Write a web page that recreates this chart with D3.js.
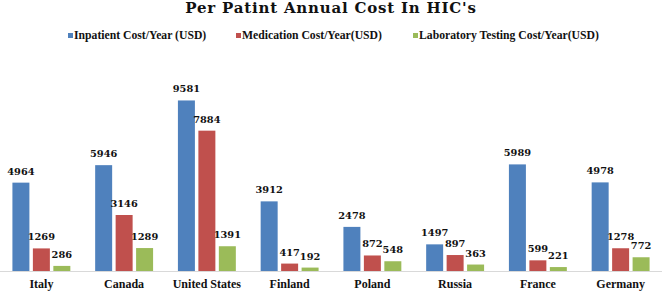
<!DOCTYPE html>
<html>
<head>
<meta charset="utf-8">
<script src="https://cdn.jsdelivr.net/npm/d3@7"></script>
<style>
  body { margin: 0; background: #fff; }
  text { font-family: "DejaVu Serif", "Liberation Serif", serif; }
</style>
</head>
<body>
<div id="chart"></div>
<script>
const countries = ["Italy", "Canada", "United States", "Finland", "Poland", "Russia", "France", "Germany"]
const inpatient = [4964, 5946, 9581, 3912, 2478, 1497, 5989, 4978]
const medication = [1269, 3146, 7884, 417, 872, 897, 599, 1278]
const laboratory = [286, 1289, 1391, 192, 548, 363, 221, 772]
const seriesNames = ["Inpatient Cost/Year (USD)", "Medication Cost/Year(USD)", "Laboratory Testing Cost/Year(USD)"]
const colors = ["#4f81bd", "#c0504d", "#9bbb59"]

const W = 662, H = 291
const margin = {top: 93, right: 0, bottom: 20, left: 0}
const width = W - margin.left - margin.right,
      height = H - margin.top - margin.bottom

const svg = d3.select("#chart")
    .append("svg")
    .attr("width", W)
    .attr("height", H)

const g = svg.append("g")
    .attr("transform", `translate(${margin.left}, ${margin.top})`)

const series = [inpatient, medication, laboratory]
const data = countries.map((c, i) => ({
    country: c,
    values: series.map((s, k) => ({key: k, value: s[i]}))
}))

const x0 = d3.scaleBand()
    .domain(countries)
    .range([0, width])
    .paddingInner(0.3)
    .paddingOuter(0.15)

const x1 = d3.scaleBand()
    .domain([0, 1, 2])
    .range([0, x0.bandwidth()])
    .paddingInner(0.17)

const y = d3.scaleLinear()
    .domain([0, 10000])
    .range([height, 0])

// baseline
g.append("line")
    .attr("x1", 0)
    .attr("x2", width)
    .attr("y1", height + 0.5)
    .attr("y2", height + 0.5)
    .style("stroke", "#d9d9d9")
    .style("stroke-width", 1)

const groups = g.selectAll(".group")
    .data(data)
    .join("g")
    .attr("class", "group")
    .attr("transform", d => `translate(${x0(d.country)},0)`)

groups.selectAll("rect")
    .data(d => d.values)
    .join("rect")
    .attr("x", d => x1(d.key))
    .attr("y", d => y(d.value))
    .attr("width", x1.bandwidth())
    .attr("height", d => height - y(d.value))
    .style("fill", d => colors[d.key])

groups.selectAll(".val")
    .data(d => d.values)
    .join("text")
    .attr("class", "val")
    .attr("x", d => x1(d.key) + x1.bandwidth() / 2)
    .attr("y", d => y(d.value) - 8)
    .text(d => d.value)
    .attr("font-size", "9.8px")
    .attr("font-weight", "bold")
    .attr("fill", "#111")
    .style("text-anchor", "middle")

// category labels
g.selectAll(".cat")
    .data(countries)
    .join("text")
    .attr("class", "cat")
    .attr("x", d => x0(d) + x0.bandwidth() / 2)
    .attr("y", height + 17)
    .text(d => d)
    .attr("font-size", "12px")
    .attr("font-weight", "bold")
    .attr("fill", "#111")
    .style("font-family", "'Liberation Serif', serif")
    .style("text-anchor", "middle")

// title
svg.append("text")
    .attr("x", W / 2)
    .attr("y", 13)
    .text("Per Patint Annual Cost In HIC's")
    .attr("font-size", "15px")
    .attr("font-weight", "bold")
    .attr("letter-spacing", "0.8px")
    .attr("fill", "#111")
    .style("text-anchor", "middle")

// legend
const legendX = [68, 236, 413]
const legend = svg.selectAll(".legend")
    .data(seriesNames)
    .join("g")
    .attr("class", "legend")
    .attr("transform", (d, i) => `translate(${legendX[i]}, 39)`)

legend.append("rect")
    .attr("x", 0)
    .attr("y", -6)
    .attr("width", 5)
    .attr("height", 5)
    .style("fill", (d, i) => colors[i])

legend.append("text")
    .attr("x", 6)
    .attr("y", 0)
    .text(d => d)
    .attr("font-size", "11.7px")
    .attr("font-weight", "bold")
    .attr("fill", "#111")
    .style("font-family", "'Liberation Serif', serif")
</script>
</body>
</html>
